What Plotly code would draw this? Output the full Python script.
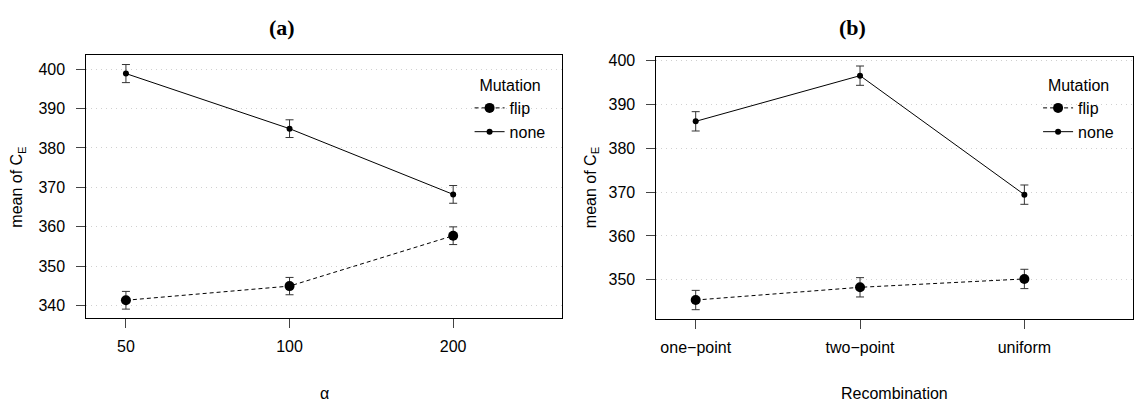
import plotly.graph_objects as go

# ---- data ----
alpha_levels = ["50", "100", "200"]
alpha_flip = [341.3, 344.9, 357.7]
alpha_flip_err = [2.25, 2.2, 2.25]
alpha_none = [398.9, 384.9, 368.2]
alpha_none_err = [2.3, 2.25, 2.25]

recomb_levels = ["one\u2212point", "two\u2212point", "uniform"]
recomb_flip = [345.4, 348.3, 350.2]
recomb_flip_err = [2.2, 2.2, 2.2]
recomb_none = [386.1, 396.5, 369.4]
recomb_none_err = [2.2, 2.2, 2.2]

yticks_a = [340, 350, 360, 370, 380, 390, 400]
yticks_b = [350, 360, 370, 380, 390, 400]

W, H = 1134, 403
FONT = "Liberation Sans, Arial, Helvetica, sans-serif"
INK = "black"

fig = go.Figure()

def add_series(x, y, err, name, dash, size, xa, ya, legend):
    fig.add_trace(go.Scatter(
        x=x, y=y, name=name, mode="lines+markers",
        line=dict(color=INK, width=1, dash=dash),
        marker=dict(color=INK, size=size),
        error_y=dict(type="data", array=err, visible=True,
                     color="#333333", thickness=1, width=4),
        xaxis=xa, yaxis=ya, legend=legend,
    ))

add_series(alpha_levels, alpha_flip, alpha_flip_err, "flip", "4px,3px", 10, "x", "y", "legend")
add_series(alpha_levels, alpha_none, alpha_none_err, "none", "solid", 6, "x", "y", "legend")
add_series(recomb_levels, recomb_flip, recomb_flip_err, "flip", "4px,3px", 10, "x2", "y2", "legend2")
add_series(recomb_levels, recomb_none, recomb_none_err, "none", "solid", 6, "x2", "y2", "legend2")

def px_x(p):
    return p / W

def px_y(p):
    return 1 - p / H

axis_common = dict(
    showline=True, mirror=True, linecolor=INK, linewidth=1,
    ticks="outside", ticklen=9, tickwidth=1, tickcolor="#444444",
    zeroline=False, tickfont=dict(family=FONT, size=16, color=INK),
)
grid = dict(showgrid=True, gridcolor="#d0d0d0", griddash="1px,4px", gridwidth=1)

fig.update_layout(
    width=W, height=H,
    margin=dict(l=0, r=0, t=0, b=0),
    paper_bgcolor="white", plot_bgcolor="white",
    font=dict(family=FONT, size=16, color=INK),
    xaxis=dict(domain=[px_x(86.4), px_x(562.3)], anchor="y", type="category",
               categoryorder="array", categoryarray=alpha_levels,
               range=[-0.242, 2.664], showgrid=False, ticklabelstandoff=4,
               **axis_common),
    yaxis=dict(domain=[px_y(317.3), px_y(50.7)], anchor="x",
               range=[336.7, 403.6], tickvals=yticks_a,
               ticklabelstandoff=8, **grid, **axis_common),
    xaxis2=dict(domain=[px_x(657), px_x(1133.5)], anchor="y2", type="category",
                categoryorder="array", categoryarray=recomb_levels,
                range=[-0.239, 2.658], showgrid=False, ticklabelstandoff=4,
                **axis_common),
    yaxis2=dict(domain=[px_y(318.3), px_y(52.3)], anchor="x2",
                range=[341.0, 400.83], tickvals=yticks_b,
                ticklabelstandoff=8, **grid, **axis_common),
    legend=dict(x=px_x(470), y=px_y(66), xanchor="left", yanchor="top",
                bgcolor="rgba(0,0,0,0)", borderwidth=0,
                title=dict(text="Mutation", side="top center",
                           font=dict(family=FONT, size=16)),
                font=dict(family=FONT, size=16), itemwidth=30,
                tracegroupgap=0),
    legend2=dict(x=px_x(1039), y=px_y(66), xanchor="left", yanchor="top",
                 bgcolor="rgba(0,0,0,0)", borderwidth=0,
                 title=dict(text="Mutation", side="top center",
                            font=dict(family=FONT, size=16)),
                 font=dict(family=FONT, size=16), itemwidth=30,
                 tracegroupgap=0),
    showlegend=True,
)

annotations = [
    dict(text="<b>(a)</b>", x=px_x(282), y=px_y(23), xref="paper", yref="paper",
         showarrow=False, xanchor="center", yanchor="middle",
         font=dict(family="Liberation Serif, Times New Roman, serif", size=22, color=INK)),
    dict(text="<b>(b)</b>", x=px_x(853), y=px_y(23), xref="paper", yref="paper",
         showarrow=False, xanchor="center", yanchor="middle",
         font=dict(family="Liberation Serif, Times New Roman, serif", size=22, color=INK)),
    dict(text="\u03b1", x=px_x(324.3), y=px_y(393), xref="paper", yref="paper",
         showarrow=False, xanchor="center", yanchor="middle",
         font=dict(family=FONT, size=16, color=INK)),
    dict(text="Recombination", x=px_x(895), y=px_y(393), xref="paper", yref="paper",
         showarrow=False, xanchor="center", yanchor="middle",
         font=dict(family=FONT, size=16, color=INK)),
    dict(text="mean of C<sub>E</sub>", x=px_x(18), y=px_y(184), xref="paper", yref="paper",
         showarrow=False, xanchor="center", yanchor="middle", textangle=-90,
         font=dict(family=FONT, size=16, color=INK)),
    dict(text="mean of C<sub>E</sub>", x=px_x(592), y=px_y(185), xref="paper", yref="paper",
         showarrow=False, xanchor="center", yanchor="middle", textangle=-90,
         font=dict(family=FONT, size=16, color=INK)),
]
fig.update_layout(annotations=annotations)

fig.write_html("out.html")
